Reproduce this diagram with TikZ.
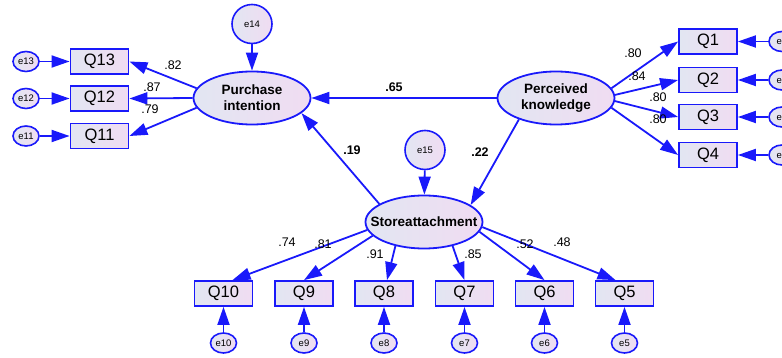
\documentclass[tikz,border=0pt]{standalone}
\usepackage{fontspec}
\setmainfont{Liberation Sans}
\usetikzlibrary{arrows.meta,shapes.geometric}
\definecolor{amosblue}{RGB}{25,25,250}
\definecolor{fillleft}{RGB}{226,230,242}
\definecolor{fillright}{RGB}{240,220,242}
\tikzset{
  obsbox/.style={draw=amosblue,line width=1.8pt,left color=fillleft,right color=fillright,
    minimum width=58pt,minimum height=25pt,inner sep=0pt,font=\fontsize{16.5}{16.5}\selectfont},
  latent/.style={ellipse,draw=amosblue,line width=1.8pt,left color=fillleft,right color=fillright,
    minimum width=117pt,minimum height=53pt,inner xsep=-12pt,inner ysep=0pt,align=center,
    font=\fontsize{13.5}{16}\selectfont\bfseries},
  errc/.style={ellipse,draw=amosblue,line width=1.6pt,left color=fillleft,right color=fillright,
    minimum width=26pt,minimum height=20pt,inner sep=0pt,font=\fontsize{9.5}{10}\selectfont},
  bigerr/.style={errc,minimum width=40pt,minimum height=39pt},
  arr/.style={draw=amosblue,line width=1.8pt,-{Triangle[length=18pt,width=12pt]}},
  wt/.style={font=\fontsize{12.5}{12.5}\selectfont},
  swt/.style={font=\fontsize{12.5}{12.5}\selectfont\bfseries}
}
\begin{document}
\begin{tikzpicture}[x=1pt,y=-1pt]
\clip (0,0) rectangle (782,358);
\node[latent] (pi) at (252,98) {Purchase\\intention};
\node[latent] (pk) at (556,98) {Perceived\\knowledge};
\node[latent] (sa) at (424,222) {Storeattachment};
\node[bigerr] (e14) at (252,24) {e14};
\node[bigerr] (e15) at (425,150) {e15};

\node[obsbox] (q13) at (99.5,61.5) {Q13};
\node[obsbox] (q12) at (99.5,98.5) {Q12};
\node[obsbox] (q11) at (99.5,136) {Q11};
\node[errc] (e13) at (26,61.5) {e13};
\node[errc] (e12) at (26,98.5) {e12};
\node[errc] (e11) at (26,136) {e11};

\node[obsbox] (q1) at (708,41.5) {Q1};
\node[obsbox] (q2) at (708,80) {Q2};
\node[obsbox] (q3) at (708,117) {Q3};
\node[obsbox] (q4) at (708,155) {Q4};
\node[errc] (e1) at (782,41.5) {e1};
\node[errc] (e2) at (782,80) {e2};
\node[errc] (e3) at (782,117) {e3};
\node[errc] (e4) at (782,155) {e4};

\node[obsbox] (q10) at (223.5,293.5) {Q10};
\node[obsbox] (q9) at (304,293.5) {Q9};
\node[obsbox] (q8) at (384,293.5) {Q8};
\node[obsbox] (q7) at (464.5,293.5) {Q7};
\node[obsbox] (q6) at (544.5,293.5) {Q6};
\node[obsbox] (q5) at (624.5,293.5) {Q5};
\node[errc] (e10) at (223.5,343) {e10};
\node[errc] (e9) at (304,343) {e9};
\node[errc] (e8) at (384,343) {e8};
\node[errc] (e7) at (464.5,343) {e7};
\node[errc] (e6) at (544.5,343) {e6};
\node[errc] (e5) at (624.5,343) {e5};

\draw[arr] (e14) -- (pi);
\draw[arr] (e15) -- (sa);
\draw[arr] (pk.west) -- (pi.east);
\draw[arr] (sa.158) -- (pi.-17);
\draw[arr] (pk.210) -- (sa.20);

\draw[arr] (pi.170) -- (q13.east);
\draw[arr] (pi.west) -- (q12.east);
\draw[arr] (pi.190) -- (q11.east);
\draw[arr] (e13) -- (q13);
\draw[arr] (e12) -- (q12);
\draw[arr] (e11) -- (q11);

\draw[arr] (pk.10) -- (q1.west);
\draw[arr] (pk.3) -- (q2.west);
\draw[arr] (pk.-3) -- (q3.west);
\draw[arr] (pk.-10) -- (q4.west);
\draw[arr] (e1) -- (q1);
\draw[arr] (e2) -- (q2);
\draw[arr] (e3) -- (q3);
\draw[arr] (e4) -- (q4);

\draw[arr] (sa.188) -- ([xshift=9pt]q10.north);
\draw[arr] (sa.195) -- (q9.north);
\draw[arr] (sa.220) -- ([xshift=3pt]q8.north);
\draw[arr] (sa.320) -- (q7.north);
\draw[arr] (sa.350) -- (q6.north);
\draw[arr] (sa.355) -- ([xshift=-9pt]q5.north);
\draw[arr] (e10) -- (q10);
\draw[arr] (e9) -- (q9);
\draw[arr] (e8) -- (q8);
\draw[arr] (e7) -- (q7);
\draw[arr] (e6) -- (q6);
\draw[arr] (e5) -- (q5);

\node[wt] (l13) at (173,65) {.82};
\node[wt] (l12) at (152,87) {.87};
\node[wt] (l11) at (150,109) {.79};
\node[swt] (lpk) at (394,87) {.65};
\node[swt] (lsa) at (352,150) {.19};
\node[swt] (lps) at (480,152) {.22};
\node[wt] (l1) at (633,53) {.80};
\node[wt] (l2) at (637,76) {.84};
\node[wt] (l3) at (658,97) {.80};
\node[wt] (l4) at (658,119) {.80};
\node[wt] (l10) at (287,242) {.74};
\node[wt] (l9) at (323,244) {.81};
\node[wt] (l8) at (375,254) {.91};
\node[wt] (l7) at (473,254) {.85};
\node[wt] (l6) at (525,244) {.52};
\node[wt] (l5) at (562,242) {.48};
\end{tikzpicture}
\end{document}
